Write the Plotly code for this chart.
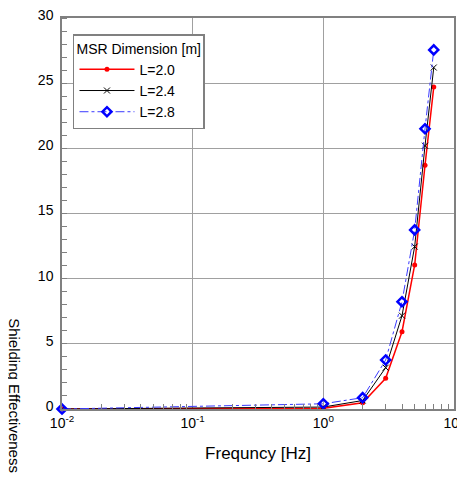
import plotly.graph_objects as go

freq = [0.01, 1, 2, 3, 4, 5, 6, 7]
se_l20 = [0.0, 0.05, 0.48, 2.36, 5.93, 11.05, 18.7, 24.7]
se_l24 = [0.0, 0.15, 0.65, 3.17, 7.16, 12.46, 20.2, 26.2]
se_l28 = [0.0, 0.4, 0.87, 3.76, 8.23, 13.74, 21.5, 27.55]
series_names = ["L=2.0", "L=2.4", "L=2.8"]
x_tickvals = [0.01, 0.1, 1, 10]
x_ticktext = ["10<sup>-2</sup>", "10<sup>-1</sup>", "10<sup>0</sup>", "10<sup>1</sup>"]
x_minor_vals = [m * 10 ** e for e in (-2, -1, 0) for m in range(2, 10)]
y_tickvals = [0, 5, 10, 15, 20, 25, 30]

fig = go.Figure()
fig.add_trace(go.Scatter(
    x=freq, y=se_l20, name=series_names[0], mode="lines+markers",
    line=dict(color="#ff0000", width=1.5),
    marker=dict(symbol="circle", size=5, color="#ff0000"),
    cliponaxis=False))
fig.add_trace(go.Scatter(
    x=freq, y=se_l24, name=series_names[1], mode="lines+markers",
    line=dict(color="#000000", width=1),
    marker=dict(symbol="x-thin", size=6, line=dict(color="#000000", width=1)),
    cliponaxis=False))
fig.add_trace(go.Scatter(
    x=freq, y=se_l28, name=series_names[2], mode="lines+markers",
    line=dict(color="#3a3aff", width=1, dash="dashdot"),
    marker=dict(symbol="diamond-open", size=7, color="#0000ff", line=dict(color="#0000ff", width=2.5)),
    cliponaxis=False))

fig.update_layout(
    width=465, height=474,
    margin=dict(l=54, r=19, t=10, b=73, autoexpand=False),
    paper_bgcolor="white", plot_bgcolor="white",
    font=dict(family="Liberation Sans, Arial, sans-serif", size=14, color="#000000"),
    showlegend=True,
    legend=dict(
        x=0.028, y=0.959, xanchor="left", yanchor="top",
        bgcolor="white", bordercolor="#808080", borderwidth=1.5,
        title=dict(text="MSR Dimension [m]", font=dict(size=14)),
        font=dict(size=14), tracegroupgap=0, itemwidth=55,
    ),
    xaxis=dict(
        type="log", range=[-2, 1], automargin=False,
        tickvals=x_tickvals, ticktext=x_ticktext,
        ticks="", showgrid=True, gridcolor="#a0a0a0", gridwidth=1,
        showline=True, linecolor="#808080", linewidth=1.5, mirror=True,
        zeroline=False, ticklabeloverflow="allow",
        minor=dict(ticks="inside", ticklen=5, tickcolor="#808080", showgrid=False,
                   tickmode="array", tickvals=x_minor_vals),
        title=dict(text="Frequncy [Hz]", standoff=18),
        tickfont=dict(size=14),
    ),
    yaxis=dict(
        range=[0, 30], tickvals=y_tickvals, automargin=False,
        ticks="", showgrid=True, gridcolor="#a0a0a0", gridwidth=1,
        showline=True, linecolor="#808080", linewidth=1.5, mirror=True,
        zeroline=False, ticklabeloverflow="allow",
        minor=dict(ticks="inside", ticklen=5, tickcolor="#808080", dtick=1, showgrid=False),
        ticklabelstandoff=4, ticklabelshift=-3,
        tickfont=dict(size=14),
    ),
    annotations=[dict(
        text="Shielding Effectiveness", textangle=90,
        xref="paper", yref="paper", x=-0.12, y=0.033,
        xanchor="center", yanchor="middle", showarrow=False,
        font=dict(size=15),
    )],
)

fig.write_html("out.html")
